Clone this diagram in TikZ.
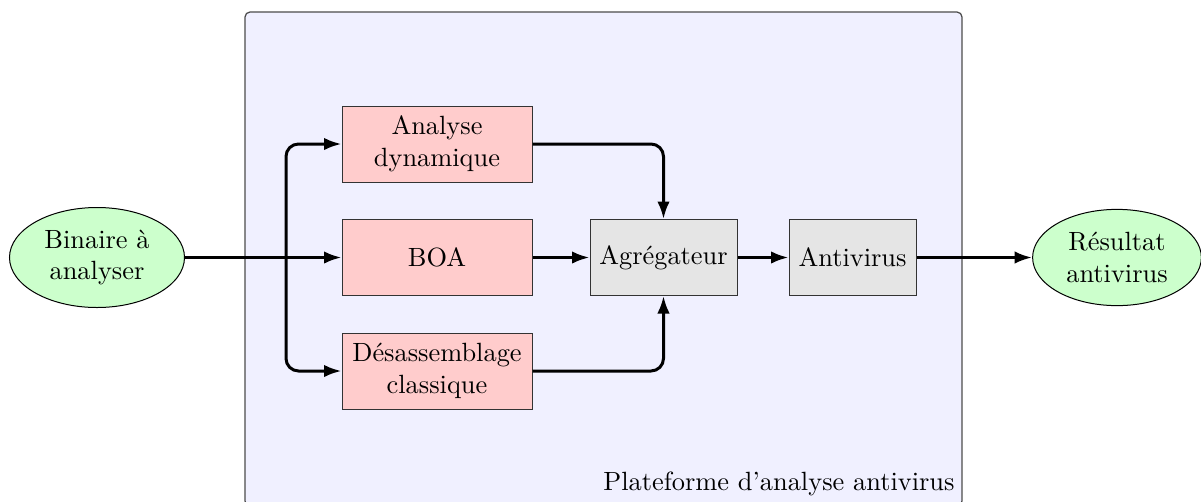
\documentclass[tikz,border=0pt]{standalone}
\usetikzlibrary{arrows.meta,shapes.geometric}
\begin{document}
\begin{tikzpicture}[x=0.4pt,y=-0.4pt,
  every node/.style={font=\fontsize{10.55}{12.6}\selectfont},
  proc/.style={draw=black!80,fill=red!20,line width=0.4pt,align=center,minimum width=76pt,minimum height=30.4pt,inner sep=2pt},
  gbox/.style={draw=black!80,fill=gray!20,line width=0.4pt,align=center,minimum height=30.4pt,inner sep=2pt},
  io/.style={ellipse,draw=black,fill=green!20,line width=0.4pt,align=center,inner sep=0pt},
  conn/.style={line width=1.2pt,-{Latex[length=7pt,width=5pt]}},
  platform/.style={draw=black!70,fill=blue!6,rounded corners=2pt,line width=0.5pt}]
\useasboundingbox (0,0) rectangle (1201,501);
\draw[platform] (245,12) rectangle (962,506);
\node[anchor=base east,inner sep=0pt] (plab) at (955,490) {Plateforme d'analyse antivirus};
\node[io,minimum width=70pt,minimum height=40pt] (bin) at (97,257.5) {Binaire à\\analyser};
\node[io,minimum width=67.5pt,minimum height=38.5pt] (res) at (1117,257.5) {Résultat\\antivirus};
\node[proc] (ad) at (437,144) {Analyse\\dynamique};
\node[proc] (boa) at (437,257.5) {BOA};
\node[proc] (dis) at (437,371) {Désassemblage\\classique};
\node[gbox,minimum width=58.8pt] (agg) at (663.5,257.5) {Agrégateur};
\node[gbox,minimum width=50.8pt] (av) at (852.5,257.5) {Antivirus};
\coordinate (split) at (286,257.5);
\draw[conn] (bin.east) -- (boa.west);
\draw[conn,rounded corners=5pt] (split) |- (ad.west);
\draw[conn,rounded corners=5pt] (split) |- (dis.west);
\draw[conn] (boa.east) -- (agg.west);
\draw[conn,rounded corners=5pt] (ad.east) -| (agg.north);
\draw[conn,rounded corners=5pt] (dis.east) -| (agg.south);
\draw[conn] (agg.east) -- (av.west);
\draw[conn] (av.east) -- (res.west);
\end{tikzpicture}
\end{document}
